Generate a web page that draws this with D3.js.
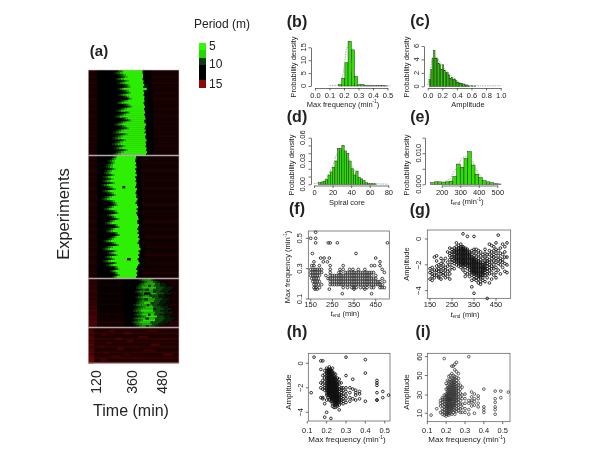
<!DOCTYPE html>
<html><head><meta charset="utf-8">
<style>html,body{margin:0;padding:0;background:#fff}svg{display:block;filter:blur(0.35px)}text{font-family:"Liberation Sans",Arial,sans-serif;fill:#222}</style>
<script src="https://cdnjs.cloudflare.com/ajax/libs/d3/7.8.5/d3.min.js"></script></head><body>
<script>
// ---------- heatmap (a): per-row onset / bright-core / end times (min), background period
const timeTicks=[120,360,480];
const aStart=[250,236,262,275,244,285,255,295,305,258,290,312,262,296,320,280,252,300,325,276,248,305,268,240,290,318,262,235,272,300,246,228,282,240,222,270,238,220,265,232,288,246,225];
const aCore=[300,290,312,322,296,330,305,335,342,300,330,345,310,332,350,322,298,335,352,318,296,340,312,290,325,348,308,285,315,332,295,280,322,292,278,312,288,276,308,285,322,296,278];
const aEnd=[398,398,400,400,398,402,400,405,400,415,402,404,402,406,404,406,402,404,408,404,406,408,404,408,410,404,406,412,408,406,410,406,412,408,410,414,410,412,410,414,412,416,412];
const aBg=[10.7,10.5,10.6,10.8,10.5,10.6,10.9,10.5,10.7,10.6,10.5,10.8,10.6,10.5,10.9,10.6,10.7,10.5,10.6,10.8,10.6,10.5,10.7,10.9,10.5,10.6,10.7,10.5,10.8,10.6,10.5,10.7,10.6,10.9,10.5,10.6,10.7,10.5,10.8,10.6,10.7,10.5,10.6];
const bStart=[225,208,190,198,180,176,205,172,165,196,160,182,155,198,150,178,206,158,188,210,170,152,196,215,222,190,166,214,232,186,208,238,196,172,226,242,200,180,230,246,212,190,164,208,236,178,158,212,186,226,172,198,160,220,182,228,240,204,230,244,222];
const bCore=[252,245,235,240,225,222,242,218,212,236,208,228,204,238,200,222,244,206,230,246,216,202,238,252,256,232,214,250,262,228,246,268,236,220,256,270,240,224,258,272,248,232,212,244,264,224,206,248,230,256,218,238,208,252,226,258,268,242,258,270,252];
const bEnd=[372,370,368,372,370,374,368,372,370,375,368,372,370,374,372,368,376,372,370,374,372,378,374,370,376,380,374,378,372,376,380,382,376,378,384,380,376,382,378,384,380,386,382,378,384,386,390,382,386,380,384,378,382,386,380,376,372,378,374,376,372];
const bBg=[10.5,10.6,10.4,10.7,10.5,10.4,10.6,10.8,10.5,10.4,10.6,10.5,10.7,10.4,10.5,10.6,10.8,10.4,10.5,10.6,10.7,10.5,10.4,10.6,10.8,10.5,10.4,10.7,10.5,10.6,10.4,10.5,10.8,10.6,10.4,10.5,10.7,10.5,10.4,10.6,10.8,10.5,10.4,10.6,10.5,10.7,10.4,10.5,10.6,10.8,10.5,10.4,10.6,10.7,10.5,10.4,10.6,10.5,10.8,10.4,10.5];
const cStart=[385,395,384,378,372,388,368,380,386,370,382,376,372,362,378,366,360,374,364,380,358,368,354,362,372];
const cCore=[415,425,412,405,400,420,398,410,418,400,415,405,402,395,410,400,392,404,396,412,390,400,388,396,405];
const cCoreEnd=[432,440,448,445,452,442,440,455,438,436,450,444,440,436,442,452,440,450,444,456,450,448,442,436,430];
const cEnd=[450,470,490,495,520,510,500,515,485,490,505,495,490,480,500,515,500,520,490,510,525,515,500,485,465];
const cCoreP=[8,7.6,7.2,7.6,6.8,7.4,7.8,7,7.6,6.8,7.6,7.2,6.2,7.6,6.6,7.2,6,7.2,6.4,5.8,7,5.8,6.4,7.2,7.4];
const cBg=[10.6,10.5,10.7,10.6,10.4,10.6,10.5,10.8,10.4,10.6,10.7,10.5,10.6,10.8,10.4,10.6,10.5,10.7,11,10.6,10.9,10.7,11.2,11,10.8];
const cLeft=[10.9,11.2,10.9,11.4,11,11.2,11.5,11,11.2,11.4,11,11.5,11.4,11.2,11.7,11.4,11.8,11.5,11.7,11.9,12.1,11.9,12.3,12.1,11.9];
const cGapRow=[3,5,6,8,10,12,13,15,18,20,22,24];
const cGapT0=[420,410,440,425,405,430,415,440,420,410,430,410];
const cGapT1=[432,424,452,436,420,442,425,452,430,424,440,425];
const dBg=[11.1,10.8,11.3,10.9,10.7,11.4,10.8,11.2,10.8,11.4,11,10.8,11.3,10.9,11.1,11.5,10.9,11.3];
const dLeft=[11.6,11.8,12,11.6,12,12.2,11.8,12,12.4,12,12.2,12.4,12.6,12.2,12.6,12.8,13,12.8];
const dMottleRow=[1,1,2,3,4,5,5,6,7,8,9,9,10,11,12,13,13,14,15,16];
const dMottleT0=[200,420,300,150,380,240,470,320,180,430,130,350,260,400,160,300,480,220,360,140];
const dMottleT1=[240,460,350,190,420,290,510,360,220,470,170,390,300,450,200,340,520,270,400,190];
const dMottleP=[11.7,11.5,11.9,11.4,11.7,12,11.5,11.8,11.6,11.9,11.7,11.5,12,11.6,11.8,11.5,11.9,11.7,11.6,11.9];
const streakSec=[0,1,1,2];
const streakRow=[14,15,51,7];
const streakT0=[305,290,320,405];
const streakT1=[328,308,345,430];
// legend
const legendPeriods=[5.2,6.2,9,10,14];
const legendLabels=["5","10","15"];
// ---------- histograms: bin starts, density heights, smooth density
const bBins=[0.162,0.184,0.206,0.228,0.25,0.272,0.294,0.316,0.338,0.36,0.38,0.4,0.42,0.44,0.46,0.48];
const bDens=[0.5,3,9,17.3,14,3.7,0.7,0.5,0.3,0.15,0.1,0.1,0.1,0.25,0.1,0.05];
const bCurveX=[0.1,0.15,0.18,0.2,0.22,0.24,0.26,0.28,0.32,0.4,0.5,0.52];
const bCurveY=[0.15,0.3,1.5,7,15,13,4,1,0.4,0.2,0.15,0.1];
const cBins=[0.02,0.04,0.06,0.08,0.1,0.12,0.14,0.16,0.18,0.2,0.22,0.24,0.26,0.28,0.3,0.32,0.34,0.36,0.38,0.4,0.42,0.44,0.46,0.48,0.5,0.52,0.54,0.56,0.6,0.64];
const cDens=[1,2.5,4.2,5.3,4.2,4.1,3.4,3.2,2.5,3.2,2.4,2,2.1,1.7,1.2,1.3,1,1.1,0.9,0.6,0.5,0.4,0.4,0.35,0.3,0.2,0.1,0.05,0.08,0.05];
const cCurveX=[0,0.03,0.06,0.1,0.15,0.2,0.3,0.4,0.5,0.6,0.8,1];
const cCurveY=[0.2,1.8,4,4.5,3.9,3,1.8,0.8,0.3,0.12,0.08,0.08];
const dBins=[5,7.5,10,12.5,15,17.5,20,22.5,25,27.5,30,32.5,35,37.5,40,42.5,45,47.5,50,52.5,55,57.5,60,62.5,65];
const dDens=[0.002,0.003,0.004,0.006,0.012,0.016,0.022,0.03,0.046,0.046,0.05,0.043,0.04,0.03,0.02,0.012,0.017,0.009,0.007,0.005,0.002,0.001,0.001,0.0008,0.0005];
const dCurveX=[0,10,20,25,30,35,40,50,60,70,80];
const dCurveY=[0.001,0.004,0.024,0.04,0.046,0.04,0.026,0.007,0.001,0.0005,0.0002];
const eBins=[140,160,180,200,220,240,260,280,300,320,340,360,380,400,420,440,460,480,500];
const eDens=[0.0005,0.0008,0.0008,0.0006,0.0008,0.001,0.0025,0.0065,0.0055,0.0083,0.0105,0.0062,0.0032,0.0022,0.0012,0.0008,0.0005,0.0003,0.0001];
const eCurveX=[140,200,240,280,320,350,380,420,460,510];
const eCurveY=[0.0002,0.0007,0.0016,0.0055,0.0088,0.009,0.0056,0.0018,0.0005,0.0001];
// ---------- scatter (f): t_end values grouped by max frequency
const fFreq=[0.135,0.165,0.175,0.195,0.215,0.235,0.255,0.275,0.295,0.32,0.345,0.37,0.40,0.47,0.5,0.54];
const fTimes=[
[296,431],
[170,180,236,350,400],
[165,175,190,300,320,340,350,360,380,395,410,430,440,470,480,490],
[165,175,185,200,240,250,260,270,280,290,300,310,320,330,340,350,360,370,380,390,400,410,420,430,440,450,460,470,480],
[160,170,180,190,240,250,260,270,280,290,300,310,320,330,340,350,360,370,380,390,400,410,420,430,440,450,460,470,490],
[155,165,175,185,230,240,250,260,270,280,290,300,310,320,330,340,350,360,370,380,390,400,410,420,430,440,450,480],
[150,160,170,180,190,220,240,250,260,270,280,290,300,310,320,330,340,350,360,370,380,390,400,410,420,430,450],
[150,160,170,180,190,200,240,280,290,310,320,330,340,350,360,370,380,390,400,410,420,430,440,490],
[150,160,170,180,190,200,240,285,300,330,345,370,400,480],
[155,165,190,240,300,430,445,470],
[165,208,227,470],
[196,212,236,450],
[158,359],
[173,231,240,273,504],
[150,173],
[173]];
// scatter (g): log amplitude values grouped by t_end
const gT=[150,160,170,180,190,200,210,220,230,240,250,260,270,280,290,300,310,320,330,340,350,360,370,380,390,400,410,420,430,440,450,460,470,480,490,500];
const gAmp=[
[-2.3,-2.6,-3.1],
[-2.2,-2.5,-2.7,-2.9,-3.2],
[-1.4,-2.4,-2.8,-3],
[-1.3,-1.7,-2.1,-2.4,-2.6,-2.8],
[-2,-2.3,-2.5,-2.9,-3],
[-1.5,-1.9,-2.2,-2.5,-2.7,-3.1],
[-1.7,-2,-2.3,-2.6,-2.8],
[-1.5,-2.2,-2.4,-2.7,-3],
[-1,-1.8,-2.1,-2.5,-2.9],
[-0.7,-1.1,-1.3,-1.6,-2,-2.4,-2.7,-3.1],
[-0.8,-1,-1.2,-1.4,-1.6,-1.8,-2.2],
[-0.7,-0.9,-1,-1.2,-1.4,-1.5,-1.7,-1.9,-2.3],
[-0.3,-0.6,-0.8,-0.9,-1,-1.1,-1.2,-1.3,-1.4,-1.5,-1.6,-1.7,-1.8,-2],
[-0.5,-0.7,-0.8,-0.9,-1,-1.1,-1.2,-1.3,-1.4,-1.5,-1.6,-1.7,-1.8,-1.9,-2.1],
[-0.4,-0.6,-0.7,-0.8,-0.9,-1,-1.1,-1.2,-1.3,-1.4,-1.5,-1.6,-1.7,-1.8,-1.9,-2,-2.2],
[0.4,-0.6,-0.7,-0.8,-0.9,-1,-1.1,-1.2,-1.3,-1.4,-1.5,-1.6,-1.7,-1.8,-1.9,-2,-2.1,-2.4],
[-0.7,-0.8,-0.9,-1,-1.1,-1.2,-1.3,-1.4,-1.5,-1.6,-1.7,-1.8,-1.9,-2,-2.2,-2.6,-2.9],
[0.2,-0.8,-0.9,-1,-1.1,-1.2,-1.3,-1.4,-1.5,-1.6,-1.7,-1.8,-1.9,-2,-2.1,-2.3,-2.7],
[-1,-1.1,-1.2,-1.3,-1.4,-1.5,-1.6,-1.7,-1.8,-1.9,-2,-2.1,-2.2,-2.4,-2.6,-2.9],
[-0.9,-1.2,-1.4,-1.5,-1.6,-1.7,-1.8,-1.9,-2,-2.1,-2.2,-2.3,-2.4,-2.5,-2.6,-2.8,-3.2,-3.7],
[0.2,-0.8,-1,-1.3,-1.5,-1.6,-1.7,-1.8,-1.9,-2,-2.1,-2.2,-2.3,-2.4,-2.5,-2.6,-2.7,-2.9,-3.1,-4.2],
[-0.8,-1.1,-1.4,-1.6,-1.7,-1.8,-1.9,-2,-2.1,-2.2,-2.3,-2.4,-2.5,-2.6,-2.7,-2.8,-3,-3.2],
[-0.9,-1.2,-1.5,-1.7,-1.8,-1.9,-2,-2.1,-2.2,-2.3,-2.4,-2.5,-2.6,-2.7,-2.8,-2.9,-3.1,-3.4],
[-1,-1.3,-1.6,-1.8,-1.9,-2,-2.1,-2.2,-2.3,-2.4,-2.5,-2.6,-2.7,-2.8,-2.9,-3,-3.3,-3.5],
[-1.2,-1.5,-1.8,-2,-2.1,-2.2,-2.3,-2.4,-2.5,-2.6,-2.7,-2.8,-3,-3.2],
[-0.8,-1.1,-1.4,-1.7,-1.9,-2,-2.2,-2.3,-2.4,-2.6,-2.8,-3.3],
[-1.2,-1.5,-1.7,-1.9,-2.1,-2.3,-2.5,-2.7,-3,-4.6],
[-0.4,-0.9,-1.2,-1.6,-1.8,-2,-2.2,-2.4,-2.7,-3.4],
[-0.5,-1,-1.3,-1.5,-1.8,-2.1,-2.3,-2.6,-3.1],
[-0.6,-0.9,-1.2,-1.4,-1.7,-2,-2.3,-2.8],
[-0.3,-0.8,-1.1,-1.5,-1.8,-2.2,-2.6,-3],
[0.3,-0.9,-1.3,-1.6,-1.9,-2.4],
[-0.7,-1.1,-1.5,-1.7,-2,-2.7],
[-0.4,-1.2,-1.6,-1.8,-2.2],
[-0.6,-1,-1.4,-1.9,-2.5],
[-0.3,-1.4,-2,-2.6]];
// scatter (h): log amplitude grouped by max frequency
const hFreq=[0.12,0.135,0.17,0.18,0.19,0.2,0.207,0.214,0.222,0.23,0.238,0.246,0.255,0.265,0.275,0.285,0.3,0.32,0.335,0.35,0.37,0.4,0.46,0.49,0.52,0.21,0.226,0.242,0.25];
const hAmp=[
[-2.4],
[0.5],
[0.2,-0.5,-1.6,-2,-2.8],
[0.2,-1,-1.4,-1.7,-2.1,-2.8,-2.9],
[-0.6,-0.9,-1.2,-1.5,-1.8,-2,-2.2,-3.3,-4.4],
[-0.4,-0.6,-0.8,-1,-1.2,-1.4,-1.6,-1.8,-2,-2.2,-2.4,-2.6,-3,-4],
[-0.5,-0.6,-0.7,-0.8,-0.9,-1,-1.1,-1.2,-1.3,-1.4,-1.5,-1.6,-1.7,-1.8,-1.9,-2,-2.1,-2.2,-2.3,-2.4,-2.6,-2.8],
[-0.3,-0.5,-0.6,-0.7,-0.8,-0.9,-1,-1.1,-1.2,-1.3,-1.4,-1.5,-1.6,-1.7,-1.8,-1.9,-2,-2.1,-2.2,-2.3,-2.4,-2.5,-2.6,-2.8,-3],
[-0.5,-0.6,-0.7,-0.8,-0.9,-1,-1.1,-1.2,-1.3,-1.4,-1.5,-1.6,-1.7,-1.8,-1.9,-2,-2.1,-2.2,-2.3,-2.4,-2.5,-2.6,-2.7,-2.8,-3.1,-4.5],
[-0.4,-0.7,-0.9,-1.1,-1.2,-1.3,-1.4,-1.5,-1.6,-1.7,-1.8,-1.9,-2,-2.1,-2.2,-2.3,-2.4,-2.5,-2.6,-2.7,-2.8,-2.9,-3,-3.3,-3.5],
[-0.8,-1,-1.2,-1.3,-1.4,-1.5,-1.6,-1.7,-1.8,-1.9,-2,-2.1,-2.2,-2.3,-2.4,-2.5,-2.6,-2.7,-2.8,-2.9,-3,-3.1,-3.3,-3.6],
[-0.9,-1.2,-1.4,-1.6,-1.7,-1.8,-1.9,-2,-2.1,-2.2,-2.3,-2.4,-2.5,-2.6,-2.7,-2.8,-2.9,-3,-3.1,-3.2,-3.4,-3.6],
[-1.2,-1.5,-1.7,-1.8,-2,-2.1,-2.2,-2.3,-2.4,-2.5,-2.6,-2.7,-2.8,-2.9,-3,-3.1,-3.2,-3.4,-3.5],
[-1.3,-1.6,-1.9,-2.1,-2.3,-2.5,-2.6,-2.7,-2.8,-2.9,-3,-3.1,-3.2,-3.4,-3.8],
[-1.6,-2,-2.2,-2.4,-2.6,-2.8,-3,-3.2],
[-2,-2.2,-2.5,-2.7,-2.9,-3.1,-3.3],
[0.5,-1,-2,-2.3,-2.6,-2.9,-3.2],
[-2,-2.4,-2.8,-3.1],
[-1.3,-2.1,-2.9],
[-2.2,-2.4,-2.6,-3],
[-2.3,-2.5,-2.9],
[0.3,-0.8,-3.1],
[-1.4,-1.6,-1.8,-2.4,-3,-3],
[-2.3,-2.8],
[-2.6],
[-0.55,-0.75,-0.95,-1.15,-1.35,-1.55,-1.75,-1.95,-2.15,-2.35,-2.55],
[-0.65,-0.85,-1.05,-1.25,-1.45,-1.65,-1.85,-2.05,-2.25,-2.45,-2.65,-2.85,-3.05],
[-1.05,-1.25,-1.45,-1.65,-1.85,-2.05,-2.25,-2.45,-2.65,-2.85,-3.05,-3.25],
[-1.35,-1.55,-1.75,-1.95,-2.15,-2.35,-2.55,-2.75,-2.95,-3.15,-3.35]];
// scatter (i): spiral core grouped by max frequency
const iFreq=[0.12,0.15,0.17,0.18,0.19,0.2,0.207,0.214,0.222,0.23,0.238,0.246,0.255,0.265,0.275,0.285,0.3,0.32,0.335,0.35,0.37,0.4,0.46,0.49,0.53];
const iCore=[
[8],
[15],
[11,18,21,24],
[9,12,15,19,22,25,27],
[8,11,14,17,20,23,25,27,30,59],
[7,9,11,13,15,17,19,21,23,25,27,29,31,36,42],
[9,11,13,15,17,19,21,23,25,26,28,30,32,34,37,40,45],
[8,10,12,14,16,18,20,22,24,25,26,28,30,32,34,36,38,41,44,49],
[10,12,14,16,18,20,22,24,25,26,28,30,32,34,36,38,40,43,46,50],
[9,13,15,17,19,21,23,25,26,28,30,32,34,36,38,40,42,44,47,51,55],
[11,14,17,19,21,23,25,27,29,31,33,35,37,39,41,43,45,47,50,55],
[9,13,16,19,21,23,25,27,29,31,33,35,37,39,41,43,46,49,53,56],
[12,15,18,21,24,25,27,29,31,33,35,37,39,42,45,48,52,57],
[13,16,19,22,25,28,31,34,37,40,43,47,51],
[11,15,20,24,28,32,36,40],
[11,16,20,26,30,38],
[11,15,21,26,31],
[9,14,21,24,60],
[18,22,24,28,33],
[10,19,23,26,31],
[17,21,26,29],
[11,14,17,36],
[9,14,17,22,26,34],
[27,34],
[33]];
// ---------- axis tick values
const hBTicks=[0,0.1,0.2,0.3,0.4,0.5];
const hCTicks=[0,0.2,0.4,0.6,0.8,1];
const hDTicks=[0,20,40,60,80];
const hETicks=[200,300,400,500];
const tEndTicks=[150,250,350,450];
const fYTicks=[0.1,0.3,0.5];
const ampTicks=[-4,-2,0];
const mfTicks=[0.1,0.2,0.3,0.4,0.5];
const coreTicks=[10,30,50,60];

// ---------- drawing
const svg=d3.select("body").append("svg").attr("width",600).attr("height",465);
const x=d3.scaleLinear().domain(timeTicks).range([97,133,163]);
const period=d3.scaleLinear().domain([5,6,8,9,10,15]).range(["#38ff08","#24e000","#1a8a08","#0c3a0c","#000000","#b00a0a"]);
const T0=63,T1=544;
const gHeat=svg.append("g");
function seg(sy,r,t0,t1,p){gHeat.append("rect").attr("x",x(t0)).attr("width",Math.max(0,x(t1)-x(t0))).attr("y",sy(r)).attr("height",sy.bandwidth()+0.4).attr("fill",period(p));}
function band(n,a,b){return d3.scaleBand().domain(d3.range(n)).range([a,b]);}
const sA=band(aStart.length,70,155),sB=band(bStart.length,156,278),sC=band(cStart.length,279,327),sD=band(dBg.length,328,363);
gHeat.append("rect").attr("x",x(T0)).attr("y",70).attr("width",x(T1)-x(T0)).attr("height",293).attr("fill","#000");
function greenRow(sy,r,s,c,ce,e,bg,left,rightGap,coreP,rampBright){
  seg(sy,r,T0,120,left);
  seg(sy,r,e+rightGap,T1,bg);
  seg(sy,r,s,s+(c-s)/3,9.3);seg(sy,r,s+(c-s)/3,s+2*(c-s)/3,8.5);seg(sy,r,s+2*(c-s)/3,c,rampBright);
  seg(sy,r,c,ce,coreP);
  if(e>ce){seg(sy,r,ce,ce+(e-ce)/2,8.8);seg(sy,r,ce+(e-ce)/2,e,9.5);}
}
aStart.forEach((s,i)=>greenRow(sA,i,s,aCore[i],aEnd[i],aEnd[i],aBg[i],aBg[i]+0.1,34,5.6,7));
bStart.forEach((s,i)=>greenRow(sB,i,s,bCore[i],bEnd[i],bEnd[i],bBg[i],bBg[i]+0.2,22,5.5,7));
cStart.forEach((s,i)=>{seg(sC,i,120,300,cBg[i]-0.3);greenRow(sC,i,cStart[i],cCore[i],cCoreEnd[i],cEnd[i],cBg[i],cLeft[i],4,cCoreP[i],8);});
cGapRow.forEach((r,i)=>seg(sC,r,cGapT0[i],cGapT1[i],9.4));
dBg.forEach((b,i)=>{seg(sD,i,T0,T1,b);seg(sD,i,T0,100,dLeft[i]);});
dMottleRow.forEach((r,i)=>seg(sD,r,dMottleT0[i],dMottleT1[i],dMottleP[i]));
const secs=[sA,sB,sC];
streakSec.forEach((s,i)=>seg(secs[s],streakRow[i],streakT0[i],streakT1[i],10));
[155.5,278.5,327.5].forEach(y=>svg.append("line").attr("x1",x(T0)).attr("x2",x(T1)).attr("y1",y).attr("y2",y).attr("stroke","#b8a4ac").attr("stroke-width",1.3));
svg.append("rect").attr("x",x(T0)).attr("y",70).attr("width",x(T1)-x(T0)).attr("height",293).attr("fill","none").attr("stroke","#d8b8c0").attr("stroke-width",0.6);

function label(t,x0,y0,size,opts={}){
  const e=svg.append("text").attr("x",x0).attr("y",y0).attr("font-size",size).attr("text-anchor",opts.anchor||"middle").attr("dominant-baseline","middle").text(t);
  if(opts.bold)e.attr("font-weight","bold");
  if(opts.rot)e.attr("transform",`rotate(-90 ${x0} ${y0})`);
  return e;
}
// heatmap labels
timeTicks.forEach(t=>label(t,x(t),382,14,{rot:true}));
label("Time (min)",131,412,16);
label("Experiments",65,214,16.5,{rot:true});
label("Period (m)",222,25,12);
label("(a)",99,52,15,{bold:true});
const legH=[[43,50],[50,58],[58,65],[65,80],[80,88]];
legendPeriods.forEach((p,i)=>svg.append("rect").attr("x",199).attr("width",7).attr("y",legH[i][0]).attr("height",legH[i][1]-legH[i][0]).attr("fill",period(p)));
legendLabels.forEach((l,i)=>label(l,209,[47,65,84.5][i],12,{anchor:"start"}));

// panel letters
const letters=["(b)","(c)","(d)","(e)","(f)","(g)","(h)","(i)"];
const lx=[297,420,297,420,297,420,297,423],ly=[23,22,118,118,210,211,333,333];
letters.forEach((l,i)=>label(l,lx[i],ly[i],16,{bold:true}));

function rich(parts,x0,y0,size,rot){
  const e=svg.append("text").attr("x",x0).attr("y",y0).attr("font-size",size).attr("text-anchor","middle").attr("dominant-baseline","middle").attr("fill","#333");
  if(rot)e.attr("transform",`rotate(-90 ${x0} ${y0})`);
  parts.forEach(p=>{const ts=e.append("tspan").text(p.t);if(p.i)ts.attr("font-style","italic");
    if(p.sup)ts.attr("font-size",size*0.62).attr("dy",-2.5);if(p.sub)ts.attr("font-size",size*0.62).attr("dy",1.8);if(p.back)ts.attr("dy",p.back);});
  return e;
}
const mfLabel=[{t:"Max frequency (min"},{t:"-1",sup:true},{t:")",back:2.5}];
const tLabel=(u,sup)=>sup?[{t:"t",i:true},{t:"end",sub:true},{t:" (min",back:-1.8},{t:"-1",sup:true},{t:")",back:2.5}]:[{t:"t",i:true},{t:"end",sub:true},{t:" (min)",back:-1.8}];

function styleAxis(g,color){g.selectAll("path").attr("stroke",color).attr("stroke-width",0.7);g.selectAll("line").attr("stroke",color).attr("stroke-width",0.7);}
function xAxis(sc,ty,ticks,fmt){
  const g=svg.append("g").attr("transform",`translate(0,${ty})`).call(d3.axisBottom(sc).tickValues(ticks).tickFormat(fmt).tickSize(2.5).tickSizeOuter(0).tickPadding(2));
  g.selectAll("text").attr("font-size",7.5).attr("fill","#333").attr("font-family",null);styleAxis(g,"#333");return g;
}
function yAxis(sc,tx,ticks,labels,fmt,labelX){
  const g=svg.append("g").attr("transform",`translate(${tx},0)`).call(d3.axisLeft(sc).tickValues(ticks).tickFormat("").tickSize(2.5).tickSizeOuter(0));
  styleAxis(g,"#333");
  labels.forEach(v=>label(fmt(v),labelX,sc(v),7.5,{rot:true}).attr("fill","#333"));
}
function hist(bins,dens,width,cx,cy,sx,sy,base,ticksX,fmtX,axisY,ticksY,labY,fmtY,tx,lblX){
  const g=svg.append("g");
  g.selectAll("rect").data(bins).join("rect").attr("x",d=>sx(d)).attr("width",d=>sx(d+width)-sx(d)).attr("y",(d,i)=>sy(dens[i])).attr("height",(d,i)=>base-sy(dens[i])).attr("fill","#2ee000").attr("stroke","#1c2a14").attr("stroke-width",0.5);
  g.append("path").attr("d",d3.line().curve(d3.curveMonotoneX).x(d=>sx(d[0])).y(d=>sy(d[1]))(cx.map((v,i)=>[v,cy[i]]))).attr("fill","none").attr("stroke","#999").attr("stroke-width",0.8).attr("stroke-dasharray","1.5,1");
  xAxis(sx,axisY,ticksX,fmtX);
  yAxis(sy,tx,ticksY,labY,fmtY,lblX);
}
// (b)
{const sx=d3.scaleLinear().domain([0,0.5]).range([315,387.5]),sy=d3.scaleLinear().domain([0,15]).range([86,47.3]);
 hist(bBins,bDens,0.022,bCurveX,bCurveY,sx,sy,86,hBTicks,d3.format(".1f"),88,[0,5,10,15],[0,5,10,15],d3.format("d"),311,304);
 rich(mfLabel,343,104.5,7.5);rich([{t:"Probability density"}],294,67,7.5,true);}
// (c)
{const sx=d3.scaleLinear().domain([0,1]).range([427.7,500.7]),sy=d3.scaleLinear().domain([0,6]).range([86.3,46]);
 hist(cBins,cDens,0.02,cCurveX,cCurveY,sx,sy,86.3,hCTicks,d3.format(".1f"),88,[0,2,4,6],[0,2,4,6],d3.format("d"),424,417);
 rich([{t:"Amplitude"}],468,105,7.5);rich([{t:"Probability density"}],407,67,7.5,true);}
// (d)
{const sx=d3.scaleLinear().domain([0,80]).range([314,388.3]),sy=d3.scaleLinear().domain([0,0.06]).range([184.3,137.7]);
 hist(dBins,dDens,2.5,dCurveX,dCurveY,sx,sy,184.3,hDTicks,d3.format("d"),185.5,[0,0.01,0.02,0.03,0.04,0.05,0.06],[0,0.03,0.06],d3.format(".2f"),311,303);
 rich([{t:"Spiral core"}],347,203,7.5);rich([{t:"Probability density"}],292,165,7.5,true);}
// (e)
{const sx=d3.scaleLinear().domain([200,500]).range([441.7,497.3]),sy=d3.scaleLinear().domain([0,0.015]).range([184.3,137.7]);
 hist(eBins,eDens,20,eCurveX,eCurveY,sx,sy,184.3,hETicks,d3.format("d"),185.5,[0,0.005,0.01,0.015],[0,0.01],d3.format(".3f"),425,419);
 rich(tLabel("",true),467,202,7.5);rich([{t:"Probability density"}],407,165,7.5,true);}

function scatter(box,pts,sx,sy,color,sw,xt,xf,xty,yt,yf,ylx){
  svg.append("rect").attr("x",box[0]).attr("y",box[1]).attr("width",box[2]-box[0]).attr("height",box[3]-box[1]).attr("fill","none").attr("stroke","#555").attr("stroke-width",0.7);
  svg.append("g").selectAll("circle").data(pts).join("circle").attr("cx",d=>sx(d[0])).attr("cy",d=>sy(d[1])).attr("r",1.35).attr("fill","none").attr("stroke",color).attr("stroke-width",sw);
  xt.forEach(v=>{svg.append("line").attr("x1",sx(v)).attr("x2",sx(v)).attr("y1",box[3]).attr("y2",box[3]+2.5).attr("stroke","#333").attr("stroke-width",0.7);
    label(xf(v),sx(v),xty,7.5).attr("fill","#333");});
  yt.forEach(v=>{svg.append("line").attr("x1",box[0]-2.5).attr("x2",box[0]).attr("y1",sy(v)).attr("y2",sy(v)).attr("stroke","#333").attr("stroke-width",0.7);
    label(yf(v),ylx,sy(v),7.5,{rot:true}).attr("fill","#333");});
}
const flatByY=(ys,lists)=>ys.flatMap((y,i)=>lists[i].map(t=>[t,y]));
const flatByX=(xs,lists)=>xs.flatMap((v,i)=>lists[i].map(a=>[v,a]));
// (f)
{const sx=d3.scaleLinear().domain([150,450]).range([310.7,375.7]),sy=d3.scaleLinear().domain([0.1,0.5]).range([299,238.3]);
 scatter([308.3,231,389.3,299],flatByY(fFreq,fTimes),sx,sy,"#222",0.85,tEndTicks,d3.format("d"),305,fYTicks,d3.format(".1f"),300);
 rich(tLabel("",false),345,314,7.5);rich(mfLabel,288,267,7.5,true);}
// (g)
{const sx=d3.scaleLinear().domain([150,450]).range([430,496]),sy=d3.scaleLinear().domain([-4,0]).range([290.7,239]);
 scatter([427.3,230,510.7,298.3],flatByX(gT,gAmp),sx,sy,"#111",0.85,tEndTicks,d3.format("d"),305,ampTicks,d3.format("d"),419);
 rich(tLabel("",false),465,315,7.5);rich([{t:"Amplitude"}],407,264,7.5,true);}
// (h)
{const sx=d3.scaleLinear().domain([0.1,0.5]).range([307.3,384.7]),sy=d3.scaleLinear().domain([-4,0]).range([412.3,363.3]);
 scatter([308.3,353.3,390,421],flatByX(hFreq,hAmp),sx,sy,"#111",0.85,mfTicks,d3.format(".1f"),431,ampTicks,d3.format("d"),300.7);
 rich(mfLabel,347,440,8);rich([{t:"Amplitude"}],289,392,8,true);}
// (i)
{const sx=d3.scaleLinear().domain([0.1,0.5]).range([427.3,502.7]),sy=d3.scaleLinear().domain([10,30,50,60]).range([413.3,395,375.5,356.7]);
 scatter([427.3,353.3,510,421.7],flatByX(iFreq,iCore),sx,sy,"#333",0.75,mfTicks,d3.format(".1f"),431,coreTicks,d3.format("d"),420);
 rich(mfLabel,467,440,8);rich([{t:"Amplitude"}],407,392,8,true);}
</script></body></html>
